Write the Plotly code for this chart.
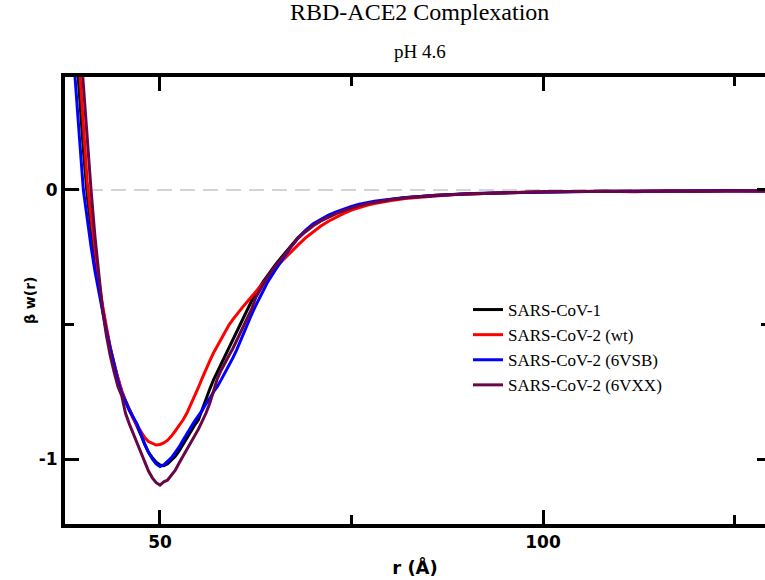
import plotly.graph_objects as go

# ---------------- data ----------------
r_values = [38.5, 39.0, 39.5, 40.0, 40.5, 41.0, 41.5, 42.0, 42.5, 43.0, 43.5, 44.0,
            44.5, 45.0, 45.5, 46.0, 46.5, 47.0, 47.5, 48.0, 48.5, 49.0, 49.5,
            50.0, 50.5, 51.0, 51.5, 52.0, 52.5, 53.0, 53.5, 54.0, 54.5, 55.0, 55.5,
            56.0, 56.5, 57.0, 57.5, 58.0, 58.5, 59.0, 59.5, 60.0, 60.5, 61.0, 61.5,
            62.0, 62.5, 63.0, 63.5, 64.0,
            65, 66, 67, 68, 69, 70, 71, 72, 73, 74, 75, 76, 77, 78, 79, 80,
            82, 84, 86, 88, 90, 92, 94, 96, 98, 100,
            104, 108, 112, 116, 120, 124, 128, 132]

sars_cov_1 = [0.75, 0.55, 0.34, 0.15, -0.02, -0.15, -0.26, -0.35, -0.44, -0.52, -0.585, -0.645,
              -0.70, -0.75, -0.785, -0.815, -0.845, -0.875, -0.91, -0.945, -0.975, -0.995, -1.012,
              -1.022, -1.025, -1.018, -1.005, -0.99, -0.97, -0.945, -0.92, -0.895, -0.875, -0.855, -0.815,
              -0.775, -0.74, -0.705, -0.675, -0.645, -0.615, -0.585, -0.555, -0.53, -0.50, -0.47, -0.44,
              -0.41, -0.385, -0.36, -0.34, -0.32,
              -0.28, -0.245, -0.21, -0.178, -0.152, -0.13, -0.113, -0.098, -0.086, -0.075, -0.065, -0.057,
              -0.05, -0.045, -0.04, -0.036,
              -0.029, -0.024, -0.02, -0.017, -0.015, -0.012, -0.011, -0.009, -0.008, -0.007,
              -0.006, -0.005, -0.004, -0.005, -0.004, -0.003, -0.003, -0.003]

sars_cov_2_wt = [0.85, 0.62, 0.45, 0.24, 0.03, -0.10, -0.22, -0.33, -0.43, -0.515, -0.585, -0.65,
                 -0.70, -0.745, -0.785, -0.82, -0.85, -0.875, -0.90, -0.92, -0.935, -0.943, -0.948,
                 -0.946, -0.94, -0.93, -0.915, -0.895, -0.875, -0.855, -0.83, -0.80, -0.77, -0.735, -0.70,
                 -0.665, -0.635, -0.605, -0.578, -0.55, -0.525, -0.502, -0.482, -0.463, -0.445, -0.428, -0.412,
                 -0.396, -0.38, -0.363, -0.345, -0.327,
                 -0.292, -0.262, -0.232, -0.205, -0.178, -0.155, -0.134, -0.116, -0.10, -0.087, -0.075, -0.065,
                 -0.057, -0.05, -0.044, -0.04,
                 -0.032, -0.026, -0.022, -0.018, -0.015, -0.013, -0.011, -0.01, -0.008, -0.007,
                 -0.006, -0.005, -0.005, -0.004, -0.004, -0.004, -0.003, -0.003]

sars_cov_2_6vsb = [0.58, 0.40, 0.19, 0.00, -0.11, -0.21, -0.30, -0.38, -0.455, -0.525, -0.59, -0.655,
                   -0.71, -0.755, -0.79, -0.82, -0.845, -0.87, -0.905, -0.945, -0.975, -1.00, -1.018,
                   -1.028, -1.022, -1.01, -0.995, -0.975, -0.955, -0.93, -0.905, -0.88, -0.86, -0.84, -0.82,
                   -0.795, -0.775, -0.75, -0.73, -0.705, -0.68, -0.655, -0.625, -0.595, -0.56, -0.525, -0.49,
                   -0.46, -0.43, -0.40, -0.37, -0.345,
                   -0.30, -0.255, -0.215, -0.18, -0.15, -0.125, -0.108, -0.093, -0.081, -0.07, -0.061, -0.053,
                   -0.047, -0.042, -0.038, -0.034,
                   -0.028, -0.024, -0.02, -0.017, -0.014, -0.012, -0.011, -0.009, -0.008, -0.007,
                   -0.006, -0.005, -0.005, -0.004, -0.004, -0.003, -0.004, -0.003]

sars_cov_2_6vxx = [1.0, 0.78, 0.58, 0.39, 0.19, 0.00, -0.17, -0.31, -0.445, -0.54, -0.615, -0.675,
                   -0.73, -0.765, -0.83, -0.87, -0.905, -0.94, -0.978, -1.015, -1.045, -1.07, -1.088,
                   -1.097, -1.085, -1.078, -1.06, -1.042, -1.015, -0.99, -0.962, -0.94, -0.917, -0.89, -0.86,
                   -0.83, -0.793, -0.745, -0.70, -0.669, -0.64, -0.615, -0.59, -0.56, -0.53, -0.50, -0.47,
                   -0.44, -0.40, -0.375, -0.35, -0.325,
                   -0.285, -0.25, -0.212, -0.18, -0.155, -0.133, -0.115, -0.1, -0.088, -0.077, -0.067, -0.058,
                   -0.051, -0.046, -0.041, -0.036,
                   -0.029, -0.024, -0.02, -0.018, -0.014, -0.013, -0.010, -0.009, -0.008, -0.008,
                   -0.006, -0.005, -0.007, -0.004, -0.006, -0.004, -0.005, -0.003]

series_names = ["SARS-CoV-1", "SARS-CoV-2 (wt)", "SARS-CoV-2 (6VSB)", "SARS-CoV-2 (6VXX)"]
series_colors = ["#000000", "#ff0000", "#0000ff", "#670748"]

x_tick_values = [50, 100]
x_tick_labels = ["50", "100"]
x_minor_values = [75, 125]
y_tick_values = [-1, 0]
y_tick_labels = ["-1", "0"]
y_minor_values = [-0.5]

for s in (sars_cov_1, sars_cov_2_wt, sars_cov_2_6vsb, sars_cov_2_6vxx):
    assert len(s) == len(r_values)

# ---------------- figure ----------------
fig = go.Figure()

fig.add_hline(y=0, line=dict(color="#d4d4d4", width=2, dash="15px,8px"), layer="below")

for name, ys, col in zip(series_names,
                         [sars_cov_1, sars_cov_2_wt, sars_cov_2_6vsb, sars_cov_2_6vxx],
                         series_colors):
    fig.add_trace(go.Scatter(x=r_values, y=ys, mode="lines", name=name,
                             line=dict(color=col, width=3)))

# invisible trace to carry the right-hand tick axis
fig.add_trace(go.Scatter(x=[None], y=[None], yaxis="y2", showlegend=False, hoverinfo="skip"))

x_range = [37.6, 128.98]
y_range = [-1.2416, 0.42]

tick_font = dict(family="DejaVu Sans", size=17, color="black", weight="bold")

fig.update_layout(
    width=765, height=580,
    margin=dict(l=65, r=0, t=77, b=56),
    paper_bgcolor="white", plot_bgcolor="white",
    showlegend=True,
    legend=dict(x=0.5757, y=0.519, xanchor="left", yanchor="top",
                font=dict(family="Liberation Serif", size=17, color="black"),
                bgcolor="rgba(0,0,0,0)", borderwidth=0, itemwidth=30,
                tracegroupgap=0),
    xaxis=dict(range=x_range, showline=True, linewidth=4, linecolor="black",
               mirror="ticks", ticks="inside", ticklen=14, tickwidth=3, tickcolor="black",
               tickvals=x_tick_values, ticktext=x_tick_labels, tickfont=tick_font,
               minor=dict(tickvals=x_minor_values, ticks="inside", ticklen=9,
                          tickwidth=3, tickcolor="black"),
               showgrid=False, zeroline=False,
               title=dict(text="r (Å)", standoff=11,
                          font=dict(family="DejaVu Sans", size=18, color="black", weight="bold"))),
    yaxis=dict(range=y_range, showline=True, linewidth=4, linecolor="black",
               mirror=False, ticks="inside", ticklen=14, tickwidth=3, tickcolor="black",
               tickvals=y_tick_values, ticktext=y_tick_labels, tickfont=tick_font,
               minor=dict(tickvals=y_minor_values, ticks="inside", ticklen=9,
                          tickwidth=3, tickcolor="black"),
               showgrid=False, zeroline=False),
    yaxis2=dict(range=y_range, overlaying="y", side="right", showline=False,
                ticks="inside", ticklen=8, tickwidth=3, tickcolor="black",
                tickvals=y_tick_values, showticklabels=False,
                minor=dict(tickvals=y_minor_values, ticks="inside", ticklen=4,
                           tickwidth=3, tickcolor="black"),
                showgrid=False, zeroline=False),
    annotations=[
        dict(text="RBD-ACE2 Complexation", xref="paper", yref="paper",
             x=0.507, y=1.146, xanchor="center", yanchor="middle", showarrow=False,
             font=dict(family="Liberation Serif", size=24, color="black")),
        dict(text="pH 4.6", xref="paper", yref="paper",
             x=0.507, y=1.057, xanchor="center", yanchor="middle", showarrow=False,
             font=dict(family="Liberation Serif", size=19, color="black")),
        dict(text="β w(r)", xref="paper", yref="paper",
             x=-0.05, y=0.501, xanchor="center", yanchor="middle", showarrow=False,
             textangle=-90,
             font=dict(family="DejaVu Sans", size=14, color="black", weight="bold")),
    ],
)

# remove the default page margin so the 765x580 figure fills the window exactly
fig.write_html("out.html",
               config={"displayModeBar": False},
               post_script="document.body.style.margin='0';"
                           "document.body.style.overflow='hidden';")
